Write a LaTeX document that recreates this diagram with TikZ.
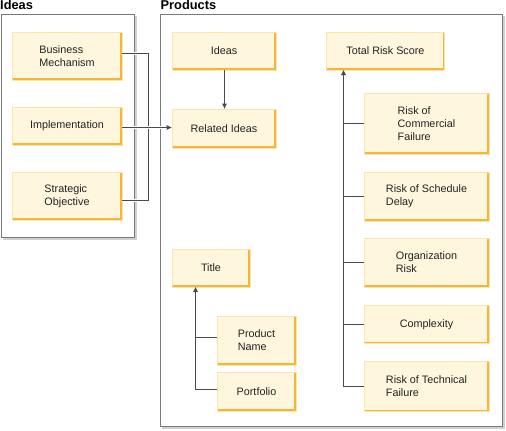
\documentclass[tikz,border=0pt]{standalone}
\usepackage{fontspec}
\setmainfont{Liberation Sans}
\usetikzlibrary{arrows.meta,calc}
\definecolor{boxfill}{HTML}{FFF6DE}
\definecolor{boxlight}{HTML}{FDE4A8}
\definecolor{boxdark}{HTML}{F3B53A}
\definecolor{frameline}{HTML}{7A7A7A}
\definecolor{frameshadow}{HTML}{D0D0D0}
\definecolor{conn}{HTML}{4A4A4A}
\definecolor{txt}{HTML}{222222}
\tikzset{
  ybox/.style={draw=boxlight, line width=0.8pt, fill=boxfill, inner sep=2pt,
    align=left, text=txt, font=\fontsize{10.8}{12.8}\selectfont,
    path picture={\draw[boxdark, line width=3.4pt]
      (path picture bounding box.south west) -- (path picture bounding box.south east)
      -- (path picture bounding box.north east);
      \draw[boxdark, line width=1.6pt]
      (path picture bounding box.south east) -- (path picture bounding box.north east);}},
  frame/.style={draw=frameline, line width=0.9pt, fill=white},
  ttl/.style={font=\bfseries\fontsize{12.8}{14}\selectfont, anchor=base west, inner sep=0pt},
  wire/.style={draw=conn, line width=0.9pt, preaction={draw=white, line width=3pt}},
  tip/.style={-{Triangle[length=5pt,width=4.5pt]}},
}
\begin{document}
\begin{tikzpicture}[x=1pt,y=-1pt]
\useasboundingbox (0,0) rectangle (506,431);
% containers
\fill[frameshadow] (3,16) rectangle (137,240);
\draw[frame] (1,14) rectangle (134.5,237.5);
\fill[frameshadow] (162,16) rectangle (504.5,428.5);
\draw[frame] (160,14) rectangle (502,426);
\node[ttl] (tIdeas) at (0,9.5) {Ideas};
\node[ttl] (tProducts) at (160.5,9.5) {Products};
% Ideas boxes
\node[ybox, minimum width=110pt, minimum height=48pt] (bm) at (67,56) {Business\\Mechanism};
\node[ybox, minimum width=110pt, minimum height=38pt] (impl) at (67,126) {Implementation};
\node[ybox, minimum width=110pt, minimum height=48pt] (so) at (67,196) {Strategic\\Objective};
% Products boxes
\node[ybox, minimum width=104pt, minimum height=38pt] (pideas) at (224,51) {Ideas};
\node[ybox, minimum width=104pt, minimum height=39pt] (rel) at (224,128.5) {Related Ideas};
\node[ybox, minimum width=117.5pt, minimum height=38pt] (trs) at (385.5,51) {Total Risk Score};
\node[ybox, minimum width=125pt, minimum height=61pt] (rcf) at (426.5,123.5) {Risk of\\Commercial\\Failure};
\node[ybox, minimum width=125pt, minimum height=49pt] (rsd) at (426.5,196.5) {Risk of Schedule\\Delay};
\node[ybox, minimum width=125pt, minimum height=49pt] (org) at (426.5,262.5) {Organization\\Risk};
\node[ybox, minimum width=125pt, minimum height=38pt] (cx) at (426.5,324.5) {Complexity};
\node[ybox, minimum width=125pt, minimum height=50pt] (rtf) at (426.5,386.5) {Risk of Technical\\Failure};
\node[ybox, minimum width=78pt, minimum height=38pt] (title) at (211,268) {Title};
\node[ybox, minimum width=79pt, minimum height=49pt] (pn) at (256.5,340.5) {Product\\Name};
\node[ybox, minimum width=79pt, minimum height=39pt] (pf) at (256.5,391.5) {Portfolio};
% connectors left
\coordinate (bmj) at ($(bm.east)+(0,-2.5)$);
\coordinate (soj) at ($(so.east)+(0,4.5)$);
\draw[wire] (bmj) -- (148.5,53.5) -- (148.5,200.5) -- (soj);
\coordinate (implj) at ($(impl.east)+(0,1.5)$);
\draw[wire, tip] (implj) -- (implj -| rel.west);
\coordinate (pidj) at ($(pideas.south)+(0.5,0)$);
\draw[wire, tip] (pidj) -- (pidj |- rel.north);
% risk tree
\coordinate (rtop) at (343.5,70);
\coordinate (rbot) at (343.5,386.5);
\draw[wire] (rcf.west) -- (343.5,123.5);
\draw[wire] (rsd.west) -- (343.5,196.5);
\draw[wire] (org.west) -- (343.5,262.5);
\draw[wire] (cx.west) -- (343.5,324.5);
\draw[wire] (rtf.west) -- (rbot);
\draw[draw=conn, line width=0.9pt, tip] (rbot) -- (rtop);
% title tree
\coordinate (ttop) at (195.5,287);
\coordinate (tbot) at (195.5,389.5);
\draw[wire] ($(pn.west)+(0,-3)$) -- (195.5,337.5);
\draw[wire] ($(pf.west)+(0,-2)$) -- (tbot);
\draw[draw=conn, line width=0.9pt, tip] (tbot) -- (ttop);
\end{tikzpicture}
\end{document}
